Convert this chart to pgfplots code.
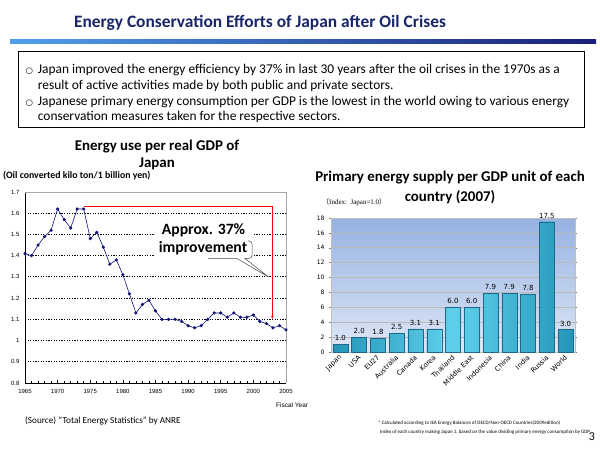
\documentclass[border=0pt]{standalone}
\usepackage{pgfplots}
\pgfplotsset{compat=1.18}
\usepackage{fontspec}
\setmainfont{Carlito}
\newfontfamily\arialf{Liberation Sans}
\newfontfamily\verdf{DejaVu Sans}
\newfontfamily\timesf{Liberation Serif}
\newfontfamily\cjk{Noto Sans CJK JP}
\usetikzlibrary{arrows.meta}
\definecolor{titleblue}{RGB}{24,38,105}
\definecolor{navyline}{RGB}{20,20,120}
\definecolor{barmid}{RGB}{95,208,236}
\definecolor{baredge}{RGB}{35,150,185}
\definecolor{barline}{RGB}{30,105,135}
\definecolor{bgtop}{RGB}{150,178,226}
\definecolor{bgbot}{RGB}{222,231,246}
\begin{document}
\begin{tikzpicture}
\useasboundingbox (0,0) rectangle (600pt,450pt);
\fill[white] (0,0) rectangle (600pt,450pt);
% title
\node[font=\fontsize{17.4}{20}\selectfont\bfseries, text=titleblue, inner sep=0] at (260pt,427pt) {Energy Conservation Efforts of Japan after Oil Crises};
\shade[left color={rgb,255:red,80;green,160;blue,235}, right color={rgb,255:red,25;green,30;blue,120}] (10pt,406pt) rectangle (596pt,410.5pt);
% text box
\draw[black, line width=0.8pt] (18pt,323pt) rectangle (584pt,399pt);
\begin{scope}[every node/.style={anchor=base west, inner sep=0, font=\fontsize{13.4}{15}\selectfont}]
\node[font=\verdf\fontsize{8.5}{10}\selectfont] at (25.5pt,376.5pt) {○};
\node at (37.7pt,376pt) {Japan improved the energy efficiency by 37\% in last 30 years after the oil crises in the 1970s as a};
\node at (37.7pt,360.5pt) {result of active activities made by both public and private sectors.};
\node[font=\verdf\fontsize{8.5}{10}\selectfont] at (25.5pt,344.5pt) {○};
\node at (37.7pt,344pt) {Japanese primary energy consumption per GDP is the lowest in the world owing to various energy};
\node at (37.7pt,329pt) {conservation measures taken for the respective sectors.};
\end{scope}
% left chart titles
\node[font=\fontsize{14.9}{17}\selectfont\bfseries, inner sep=0] at (157pt,303pt) {Energy use per real GDP of};
\node[font=\fontsize{14.9}{17}\selectfont\bfseries, inner sep=0] at (157pt,286.5pt) {Japan};
\node[font=\fontsize{9.8}{11}\selectfont\bfseries, inner sep=0, anchor=west] at (3pt,274.5pt) {(Oil converted kilo ton/1 billion yen)};
% right chart titles
\node[font=\fontsize{14.9}{17}\selectfont\bfseries, inner sep=0] at (450pt,272pt) {Primary energy supply per GDP unit of each};
\node[font=\fontsize{14.9}{17}\selectfont\bfseries, inner sep=0] at (450pt,253pt) {country (2007)};
\node[font=\timesf\fontsize{7}{8}\selectfont, inner sep=0, anchor=west] at (322pt,248pt) {{\cjk （}Index:\ \ Japan=1.0{\cjk ）}};

% line chart
\begin{axis}[at={(25pt,67pt)}, anchor=south west, scale only axis,
  width=261pt, height=191pt,
  xmin=1965, xmax=2005, ymin=0.8, ymax=1.7,
  xtick={1965,1970,...,2005}, minor x tick num=4,
  ytick={0.8,0.9,1,1.1,1.2,1.3,1.4,1.5,1.6,1.7},
  yticklabels={0.8,0.9,1,1.1,1.2,1.3,1.4,1.5,1.6,1.7},
  axis lines*=left, axis line style={black, line width=0.8pt},
  tick align=inside, major tick length=2.5pt, minor tick length=1.5pt,
  xtick style={black, line width=0.6pt}, ytick style={draw=none},
  ymajorgrids, grid style={black, line width=0.8pt, dash pattern=on 1.3pt off 1.3pt},
  tick label style={font=\arialf\fontsize{6}{7}\selectfont},
  /pgf/number format/assume math mode=true,
  x tick label style={/pgf/number format/1000 sep={}, yshift=-3pt},
  y tick label style={xshift=-2pt},
  clip=false]
\draw[gray!70, line width=0.8pt] (rel axis cs:0,1) -- (rel axis cs:1,1) -- (rel axis cs:1,0);
\addplot[navyline, line width=0.6pt, mark=*, mark size=1.3pt] coordinates {
(1965,1.41)(1966,1.40)(1967,1.45)(1968,1.49)(1969,1.52)(1970,1.62)(1971,1.57)(1972,1.53)(1973,1.62)(1974,1.62)
(1975,1.48)(1976,1.51)(1977,1.44)(1978,1.36)(1979,1.38)(1980,1.31)(1981,1.22)(1982,1.13)(1983,1.17)(1984,1.19)
(1985,1.14)(1986,1.10)(1987,1.10)(1988,1.10)(1989,1.09)(1990,1.07)(1991,1.06)(1992,1.07)(1993,1.10)(1994,1.13)
(1995,1.13)(1996,1.11)(1997,1.13)(1998,1.11)(1999,1.11)(2000,1.12)(2001,1.09)(2002,1.08)(2003,1.06)(2004,1.07)(2005,1.05)};
\draw[red, line width=1pt, -{Stealth[length=3pt,width=2.5pt]}] (axis cs:1974.1,1.632) -- (axis cs:2002.9,1.632) -- (axis cs:2002.9,1.103);
\end{axis}
% callout
\fill[white] (155pt,191pt) rectangle (252pt,229pt);
\draw[gray!60!black, line width=0.5pt] (208pt,191.5pt) -- (237pt,191.5pt) -- (268.5pt,173pt) -- (245pt,191.5pt) -- (249pt,191.5pt) arc (-90:0:3pt) -- (252pt,206pt) arc (0:90:3pt) -- (248pt,209pt);
\node[font=\fontsize{15.7}{17}\selectfont\bfseries, inner sep=0] at (203.5pt,220pt) {Approx. 37\%};
\node[font=\fontsize{15.7}{17}\selectfont\bfseries, inner sep=0] at (203pt,202pt) {improvement};
\node[font=\arialf\fontsize{6.5}{7}\selectfont, inner sep=0, anchor=west] at (276pt,45pt) {Fiscal Year};

% bar chart
\begin{axis}[at={(331pt,98pt)}, anchor=south west, scale only axis,
  width=244pt, height=134pt,
  xmin=-0.5, xmax=12.5, ymin=0, ymax=18,
  ytick={0,2,...,18}, xtick={0,...,12},
  xticklabels={Japan,USA,EU27,Australia,Canada,Korea,Thailand,Middle East,Indonesia,China,India,Russia,World},
  axis background/.style={top color=bgtop, bottom color=bgbot},
  axis line style={gray!50}, 
  ymajorgrids, grid style={gray!55, line width=0.7pt},
  xtick style={draw=none}, ytick style={gray, line width=0.5pt}, tick align=outside, major tick length=2pt,
  tick label style={font=\verdf\fontsize{6}{7}\selectfont},
  /pgf/number format/assume math mode=true,
  x tick label style={font=\verdf\fontsize{6.8}{7}\selectfont, rotate=45, anchor=east, xshift=2pt, yshift=-2pt},
  y tick label style={xshift=-1pt},
  ybar, bar width=15pt,
  nodes near coords, nodes near coords style={font=\verdf\fontsize{7}{8}\selectfont, /pgf/number format/.cd, fixed, fixed zerofill, precision=1, assume math mode=true},
  clip=false]
\addplot[draw=barline, line width=0.4pt, left color=baredge, right color=baredge, middle color=barmid] coordinates {
(0,1.0)(1,2.0)(2,1.8)(3,2.5)(4,3.1)(5,3.1)(6,6.0)(7,6.0)(8,7.9)(9,7.9)(10,7.8)(11,17.5)(12,3.0)};
\end{axis}

% source & notes
\node[font=\fontsize{9.2}{10}\selectfont, inner sep=0, anchor=west] at (25pt,29pt) {(Source) “Total Energy Statistics” by ANRE};
\node[font=\fontsize{5}{6}\selectfont, inner sep=0, anchor=west] at (378pt,27pt) {* Calculated according to IEA Energy Balances of OECD/Non-OECD Countries(2009edition)};
\node[font=\fontsize{5}{6}\selectfont, inner sep=0, anchor=west] at (380pt,18pt) {Index of each country making Japan 1, based on the value dividing primary energy consumption by GDP.};
\node[font=\fontsize{12}{13}\selectfont, inner sep=0] at (592pt,13pt) {3};
\end{tikzpicture}
\end{document}
